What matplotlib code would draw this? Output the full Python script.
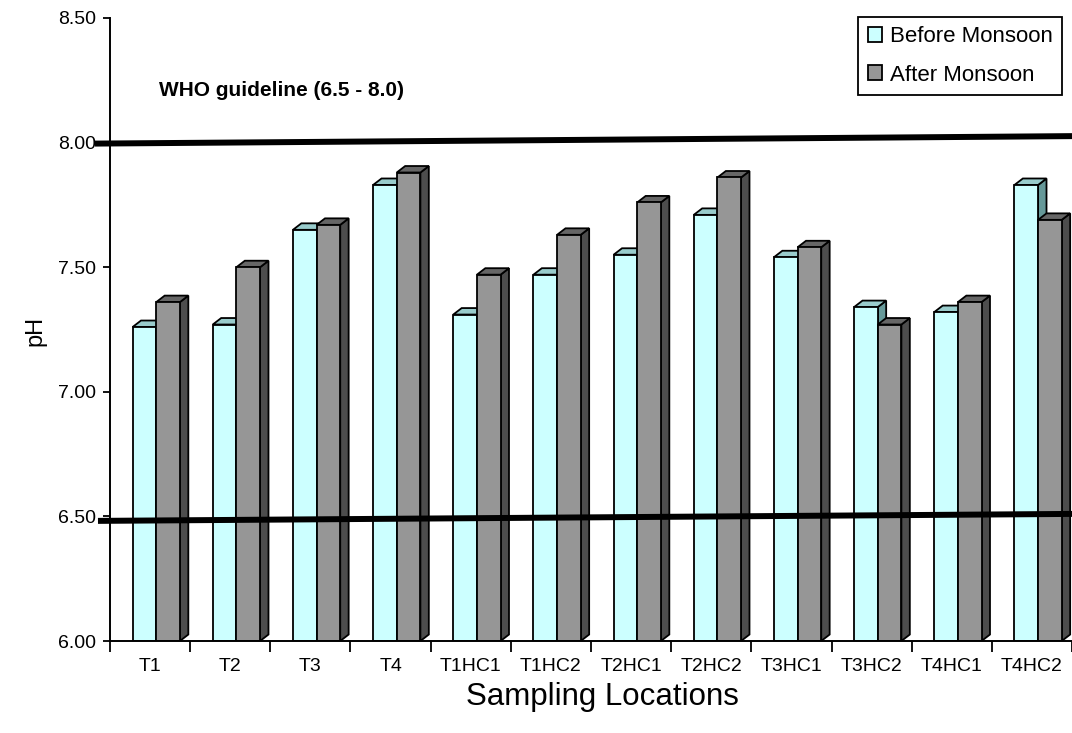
import matplotlib
matplotlib.use("Agg")
import matplotlib.pyplot as plt
from matplotlib.patches import Polygon, Patch
import numpy as np

# pH of each sampling location before and after the monsoon
locations = ["T1", "T2", "T3", "T4", "T1HC1", "T1HC2",
             "T2HC1", "T2HC2", "T3HC1", "T3HC2", "T4HC1", "T4HC2"]
ph_before = [7.26, 7.27, 7.65, 7.83, 7.31, 7.47, 7.55, 7.71, 7.54, 7.34, 7.32, 7.83]
ph_after = [7.36, 7.50, 7.67, 7.88, 7.47, 7.63, 7.76, 7.86, 7.58, 7.27, 7.36, 7.69]
who_limits = [6.5, 8.0]
yticks = [6.0, 6.5, 7.0, 7.5, 8.0, 8.5]

plt.rcParams['font.family'] = ['Liberation Sans', 'DejaVu Sans']

W, H = 1072, 733
fig = plt.figure(figsize=(W / 100, H / 100), dpi=100)
ax = fig.add_axes([110 / W, (H - 641) / H, (W - 110) / W, (641 - 18) / H])
ax.set_xlim(-0.5, 11.5)
ax.set_ylim(6.0, 8.5)

base = 6.0
bar_w = 0.295
depth_x = 0.105   # receding depth, category units
depth_y = 0.026   # receding depth, pH units
series = [
    ("Before Monsoon", ph_before, -0.218, ("#CCFFFF", "#99CCCC", "#669999"), 2),
    ("After Monsoon", ph_after, 0.077, ("#969696", "#666666", "#4D4D4D"), 3),
]
x = np.arange(len(locations))
edge_lw = 1.3

for name, vals, off, (front, top, side), z in series:
    left = x + off
    ax.bar(left, np.array(vals) - base, bottom=base, width=bar_w, align='edge',
           facecolor=front, edgecolor='black', linewidth=edge_lw, zorder=z + 0.2)
    for xl, v in zip(left, vals):
        xr = xl + bar_w
        top_poly = Polygon([(xl, v), (xr, v), (xr + depth_x, v + depth_y),
                            (xl + depth_x, v + depth_y)], closed=True,
                           facecolor=top, edgecolor='black', linewidth=edge_lw,
                           zorder=z + 0.1)
        side_poly = Polygon([(xr, base), (xr + depth_x, base + depth_y),
                             (xr + depth_x, v + depth_y), (xr, v)], closed=True,
                            facecolor=side, edgecolor='black', linewidth=edge_lw,
                            zorder=z)
        ax.add_patch(side_poly)
        ax.add_patch(top_poly)

# WHO guideline lines (slightly tilted, running off the right edge)
for lim, x0, (dl, dr) in zip(who_limits, [-0.65, -0.687],
                             [(-0.018, 0.010), (-0.004, 0.026)]):
    ax.plot([x0, 11.5], [lim + dl, lim + dr], color='black', lw=4.3,
            solid_capstyle='butt', clip_on=False, zorder=6)

fig.text(159 / W, 1 - 90 / H, "WHO guideline (6.5 - 8.0)", fontsize=15,
         fontweight='bold', ha='left', va='center')

# axes styling
for s in ['top', 'right']:
    ax.spines[s].set_visible(False)
for s in ['left', 'bottom']:
    ax.spines[s].set_linewidth(1.4)
    ax.spines[s].set_zorder(7)

ax.set_yticks(yticks)
ax.set_yticklabels([f"{t:.2f}" for t in yticks], fontsize=14)
ax.tick_params(axis='y', direction='out', length=5, width=1.3, pad=5)

ax.set_xticks(np.arange(-0.5, 12, 1))
ax.set_xticklabels([])
ax.set_xticks(x, minor=True)
ax.set_xticklabels(locations, minor=True, fontsize=14)
ax.tick_params(axis='x', which='major', direction='out', length=8, width=1.3)
ax.tick_params(axis='x', which='minor', length=0, pad=12)

fig.text(35 / W, 1 - 331 / H, "pH", rotation=90, fontsize=17,
         ha='center', va='center')
fig.text(602 / W, 1 - 697 / H, "Sampling Locations", fontsize=22.5,
         ha='center', va='center')

handles = [Patch(facecolor=s[3][0], edgecolor='black', linewidth=1.3, label=s[0])
           for s in series]
leg = fig.legend(handles=handles, loc='upper right',
                 bbox_to_anchor=(1062 / W, 1 - 17 / H), fontsize=16,
                 frameon=True, fancybox=False, framealpha=1, edgecolor='black',
                 handlelength=0.65, handleheight=0.65, handletextpad=0.35,
                 labelspacing=0.78, borderpad=0.42, borderaxespad=0)
leg.get_frame().set_linewidth(1.3)

fig.savefig("out.png", dpi=100)
